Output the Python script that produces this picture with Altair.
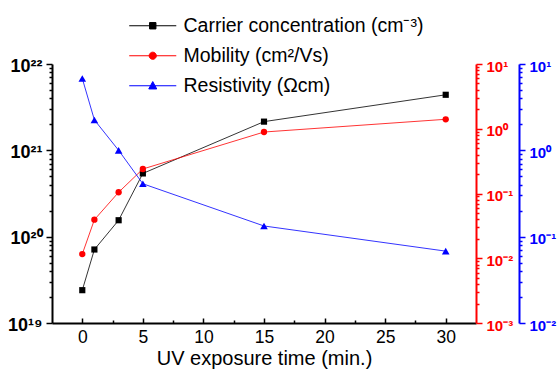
import altair as alt
import pandas as pd

# UV exposure time (min.)
time_min = [0, 1, 3, 5, 15, 30]
# Carrier concentration (cm^-3)
carrier = [2.4e19, 7.1e19, 1.55e20, 5.4e20, 2.15e21, 4.4e21]
# Hall mobility (cm^2/Vs)
mobility = [0.0116, 0.0394, 0.1045, 0.239, 0.89, 1.40]
# Resistivity (Ohm cm)
resistivity = [6.8, 2.25, 1.0, 0.41, 0.133, 0.068]

series = ["Carrier concentration (cm⁻³)", "Mobility (cm²/Vs)", "Resistivity (Ωcm)"]
colors = ["#000000", "#ff0000", "#0000ff"]

x_major = [0, 5, 10, 15, 20, 25, 30]
x_minor = [2.5, 7.5, 12.5, 17.5, 22.5, 27.5]

df = pd.DataFrame({"time": time_min, "carrier": carrier,
                   "mobility": mobility, "resistivity": resistivity})
legend_df = pd.DataFrame({"series": series})

W, H = 424, 259
FONT = "Liberation Sans"
SUP = str.maketrans("-0123456789", "⁻⁰¹²³⁴⁵⁶⁷⁸⁹")


def log_ticks(lo, hi):
    vals = []
    for e in range(lo, hi):
        for m in range(1, 10):
            vals.append(float(f"{m}e{e}"))
    vals.append(float(f"1e{hi}"))
    return vals


def decade_labels(lo, hi):
    expr = "''"
    for e in range(lo, hi + 1):
        v = repr(float(f"1e{e}"))
        expr = f"datum.value == {v} ? '10{str(e).translate(SUP)}' : ({expr})"
    return expr


IS_DECADE = "abs(log(datum.value)/LN10 - round(log(datum.value)/LN10)) < 1e-6"


def log_axis(lo, hi, color, orient, size, offset=0):
    return alt.Axis(
        orient=orient, offset=offset, values=log_ticks(lo, hi),
        labelExpr=decade_labels(lo, hi),
        tickSize={"condition": {"test": IS_DECADE, "value": 6}, "value": 3},
        tickWidth=1.5, tickColor=color, domainColor=color, domainWidth=2,
        labelColor=color, labelFont=FONT, labelFontWeight="bold",
        labelFontSize=size, labelPadding=4, labelOffset=2,
        labelOverlap=False, labelFlush=False, labelBound=False,
        title=None, grid=False,
    )


x_scale = alt.Scale(domain=[-2.5, 32.5], nice=False, zero=False)

x_bottom = alt.Axis(
    orient="bottom", values=x_major, ticks=False, domainWidth=2,
    domainColor="black", labelFont=FONT, labelFontSize=17.5,
    labelColor="black", labelPadding=5, labelFlush=False,
    title="UV exposure time (min.)", titleFont=FONT, titleFontSize=20,
    titleFontWeight="normal", titleColor="black", titlePadding=3, grid=False,
)

# inward-pointing ticks along the bottom edge
x_inner_ticks = alt.Axis(
    orient="top", offset=-H, values=x_major + x_minor, labels=False,
    domain=False,
    tickSize={"condition": {"test": "datum.value % 5 == 0", "value": 5}, "value": 3},
    tickWidth=1.5, tickColor="black", title=None, grid=False,
)


def series_layer(field, color, shape, size, y_axis, x_axis, lo, hi):
    base = alt.Chart(df).encode(
        x=alt.X("time:Q", scale=x_scale, axis=x_axis),
        y=alt.Y(f"{field}:Q",
                scale=alt.Scale(type="log", domain=[float(f"1e{lo}"), float(f"1e{hi}")], nice=False),
                axis=y_axis),
    )
    line = base.mark_line(color=color, strokeWidth=0.8, clip=False)
    pts = base.mark_point(color=color, filled=True, opacity=1, shape=shape, size=size)
    return alt.layer(line, pts)


carrier_layer = series_layer("carrier", colors[0], "square", 38,
                             log_axis(19, 22, "black", "left", 18), x_bottom, 19, 22)
mobility_layer = series_layer("mobility", colors[1], "circle", 40,
                              log_axis(-3, 1, colors[1], "right", 15), x_inner_ticks, -3, 1)
resist_layer = series_layer("resistivity", colors[2], "triangle-up", 58,
                            log_axis(-2, 1, colors[2], "right", 15, offset=43), None, -2, 1)

# legend symbols: a short line with the series marker in its middle
legend_paths = [
    "M-3.36,0H3.36M-0.457,-0.457H0.457V0.457H-0.457Z",
    "M-3.36,0H3.36M0.514,0A0.514,0.514,0,1,1,-0.514,0A0.514,0.514,0,1,1,0.514,0Z",
    "M-3.36,0H3.36M0,-0.6L0.571,0.457H-0.571Z",
]

leg = alt.Legend(
    title=None, orient="none", legendX=91, legendY=-48, padding=0,
    rowPadding=9, labelOffset=21, labelFont=FONT, labelFontSize=19.5,
    labelColor="black", labelLimit=400, symbolSize=196, symbolStrokeWidth=1,
    symbolOpacity=1, direction="vertical",
)

legend_layer = alt.Chart(legend_df).mark_point(filled=True, opacity=0).encode(
    fill=alt.Fill("series:N", scale=alt.Scale(domain=series, range=colors), legend=leg),
    stroke=alt.Stroke("series:N", scale=alt.Scale(domain=series, range=colors), legend=leg),
    shape=alt.Shape("series:N", scale=alt.Scale(domain=series, range=legend_paths), legend=leg),
)

chart = alt.layer(carrier_layer, mobility_layer, resist_layer, legend_layer).resolve_scale(
    y="independent"
).resolve_axis(
    x="independent", y="independent"
).properties(
    width=W, height=H,
    padding={"left": 52, "top": 64, "right": 81, "bottom": 47},
    autosize=alt.AutoSizeParams(type="none"),
    background="white",
).configure_view(stroke=None)

chart.save("out.html", embed_options={"renderer": "svg", "actions": False})
